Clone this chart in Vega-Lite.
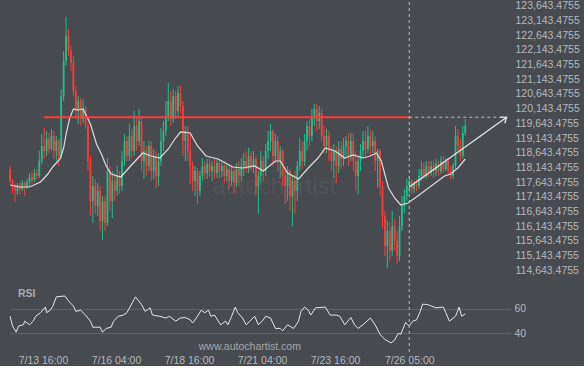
{
"$schema":"https://vega.github.io/schema/vega-lite/v6.json",
"background":"#474a4f",
"padding":{"left":7,"top":0,"right":4,"bottom":0},
"spacing":0,
"config":{"view":{"stroke":null},"axis":{"labelFont":"Liberation Sans","labelFontSize":10.5,"labelColor":"#b5b8bc","domain":false,"ticks":false,"labelOverlap":false}},
"datasets":{
"candles":[
{"t":"2025-07-12T13:00","o":118091,"h":118193,"l":117615,"c":117683},
{"t":"2025-07-12T15:00","o":117683,"h":117751,"l":117275,"c":117479},
{"t":"2025-07-12T17:00","o":117479,"h":117581,"l":116969,"c":117343},
{"t":"2025-07-12T19:00","o":117343,"h":117615,"l":117207,"c":117547},
{"t":"2025-07-12T21:00","o":117547,"h":117649,"l":117241,"c":117411},
{"t":"2025-07-12T23:00","o":117411,"h":117717,"l":117343,"c":117615},
{"t":"2025-07-13T01:00","o":117615,"h":117683,"l":117173,"c":117479},
{"t":"2025-07-13T03:00","o":117479,"h":117751,"l":117411,"c":117649},
{"t":"2025-07-13T05:00","o":117649,"h":117955,"l":117513,"c":117819},
{"t":"2025-07-13T07:00","o":117819,"h":118023,"l":117581,"c":117717},
{"t":"2025-07-13T09:00","o":117717,"h":118091,"l":117649,"c":117955},
{"t":"2025-07-13T11:00","o":117955,"h":118091,"l":117751,"c":117853},
{"t":"2025-07-13T13:00","o":117853,"h":118703,"l":117785,"c":118363},
{"t":"2025-07-13T15:00","o":118363,"h":119281,"l":118261,"c":118873},
{"t":"2025-07-13T17:00","o":118873,"h":119485,"l":118431,"c":118703},
{"t":"2025-07-13T19:00","o":118703,"h":119383,"l":118533,"c":119111},
{"t":"2025-07-13T21:00","o":119111,"h":119315,"l":118635,"c":118771},
{"t":"2025-07-13T23:00","o":118771,"h":119451,"l":118703,"c":119213},
{"t":"2025-07-14T01:00","o":119213,"h":119383,"l":118431,"c":118703},
{"t":"2025-07-14T03:00","o":118703,"h":119213,"l":118363,"c":119043},
{"t":"2025-07-14T05:00","o":119043,"h":119111,"l":118193,"c":118533},
{"t":"2025-07-14T07:00","o":118533,"h":120811,"l":118431,"c":120573},
{"t":"2025-07-14T09:00","o":120573,"h":122103,"l":120403,"c":121763},
{"t":"2025-07-14T11:00","o":121763,"h":123259,"l":121593,"c":122613},
{"t":"2025-07-14T13:00","o":122613,"h":122851,"l":121933,"c":122103},
{"t":"2025-07-14T15:00","o":122103,"h":122273,"l":121423,"c":121695},
{"t":"2025-07-14T17:00","o":121695,"h":121933,"l":120573,"c":120743},
{"t":"2025-07-14T19:00","o":120743,"h":120913,"l":119791,"c":120063},
{"t":"2025-07-14T21:00","o":120063,"h":120573,"l":119621,"c":120403},
{"t":"2025-07-14T23:00","o":120403,"h":120505,"l":119553,"c":119791},
{"t":"2025-07-15T01:00","o":119791,"h":120471,"l":119655,"c":120131},
{"t":"2025-07-15T03:00","o":120131,"h":120233,"l":119451,"c":119553},
{"t":"2025-07-15T05:00","o":119553,"h":119655,"l":118023,"c":118363},
{"t":"2025-07-15T07:00","o":118363,"h":118533,"l":116493,"c":117003},
{"t":"2025-07-15T09:00","o":117003,"h":117853,"l":116255,"c":117513},
{"t":"2025-07-15T11:00","o":117513,"h":117751,"l":116561,"c":116833},
{"t":"2025-07-15T13:00","o":116833,"h":117615,"l":116493,"c":117343},
{"t":"2025-07-15T15:00","o":117343,"h":117513,"l":115983,"c":116323},
{"t":"2025-07-15T17:00","o":116323,"h":117173,"l":115677,"c":117003},
{"t":"2025-07-15T19:00","o":117003,"h":117173,"l":115983,"c":116255},
{"t":"2025-07-15T21:00","o":116255,"h":118465,"l":116153,"c":118023},
{"t":"2025-07-15T23:00","o":118023,"h":118193,"l":116663,"c":117003},
{"t":"2025-07-16T01:00","o":117003,"h":118023,"l":116425,"c":117683},
{"t":"2025-07-16T03:00","o":117683,"h":117955,"l":117003,"c":117343},
{"t":"2025-07-16T05:00","o":117343,"h":118193,"l":117173,"c":117853},
{"t":"2025-07-16T07:00","o":117853,"h":118023,"l":117241,"c":117513},
{"t":"2025-07-16T09:00","o":117513,"h":118703,"l":117343,"c":118363},
{"t":"2025-07-16T11:00","o":118363,"h":119281,"l":118193,"c":119043},
{"t":"2025-07-16T13:00","o":119043,"h":119213,"l":118363,"c":118533},
{"t":"2025-07-16T15:00","o":118533,"h":119621,"l":118363,"c":119213},
{"t":"2025-07-16T17:00","o":119213,"h":119451,"l":118431,"c":118703},
{"t":"2025-07-16T19:00","o":118703,"h":120063,"l":118533,"c":119553},
{"t":"2025-07-16T21:00","o":119553,"h":119893,"l":118703,"c":119043},
{"t":"2025-07-16T23:00","o":119043,"h":120131,"l":118873,"c":119723},
{"t":"2025-07-17T01:00","o":119723,"h":119893,"l":118023,"c":118363},
{"t":"2025-07-17T03:00","o":118363,"h":119043,"l":117751,"c":118703},
{"t":"2025-07-17T05:00","o":118703,"h":118873,"l":117853,"c":118193},
{"t":"2025-07-17T07:00","o":118193,"h":119043,"l":118023,"c":118873},
{"t":"2025-07-17T09:00","o":118873,"h":119043,"l":117683,"c":118023},
{"t":"2025-07-17T11:00","o":118023,"h":118771,"l":117751,"c":118533},
{"t":"2025-07-17T13:00","o":118533,"h":118703,"l":117445,"c":117853},
{"t":"2025-07-17T15:00","o":117853,"h":118635,"l":117513,"c":118363},
{"t":"2025-07-17T17:00","o":118363,"h":119485,"l":118193,"c":119043},
{"t":"2025-07-17T19:00","o":119043,"h":119723,"l":118703,"c":119383},
{"t":"2025-07-17T21:00","o":119383,"h":120403,"l":119213,"c":119893},
{"t":"2025-07-17T23:00","o":119893,"h":121015,"l":119723,"c":120403},
{"t":"2025-07-18T01:00","o":120403,"h":120743,"l":119553,"c":119791},
{"t":"2025-07-18T03:00","o":119791,"h":120811,"l":119655,"c":120573},
{"t":"2025-07-18T05:00","o":120573,"h":120743,"l":119791,"c":120063},
{"t":"2025-07-18T07:00","o":120063,"h":120913,"l":119893,"c":120675},
{"t":"2025-07-18T09:00","o":120675,"h":120913,"l":119995,"c":120233},
{"t":"2025-07-18T11:00","o":120233,"h":120403,"l":118533,"c":119043},
{"t":"2025-07-18T13:00","o":119043,"h":119553,"l":118363,"c":119383},
{"t":"2025-07-18T15:00","o":119383,"h":119553,"l":118363,"c":118703},
{"t":"2025-07-18T17:00","o":118703,"h":119281,"l":117581,"c":118193},
{"t":"2025-07-18T19:00","o":118193,"h":118363,"l":117343,"c":117683},
{"t":"2025-07-18T21:00","o":117683,"h":118193,"l":117173,"c":118023},
{"t":"2025-07-18T23:00","o":118023,"h":118125,"l":116901,"c":117343},
{"t":"2025-07-19T01:00","o":117343,"h":118023,"l":117173,"c":117853},
{"t":"2025-07-19T03:00","o":117853,"h":118465,"l":117683,"c":118193},
{"t":"2025-07-19T05:00","o":118193,"h":118363,"l":117751,"c":117955},
{"t":"2025-07-19T07:00","o":117955,"h":118431,"l":117751,"c":118261},
{"t":"2025-07-19T09:00","o":118261,"h":118431,"l":117819,"c":118023},
{"t":"2025-07-19T11:00","o":118023,"h":118363,"l":117683,"c":118193},
{"t":"2025-07-19T13:00","o":118193,"h":118431,"l":117751,"c":117955},
{"t":"2025-07-19T15:00","o":117955,"h":118465,"l":117785,"c":118295},
{"t":"2025-07-19T17:00","o":118295,"h":118431,"l":117751,"c":118023},
{"t":"2025-07-19T19:00","o":118023,"h":118363,"l":117819,"c":118193},
{"t":"2025-07-19T21:00","o":118193,"h":118363,"l":117615,"c":117853},
{"t":"2025-07-19T23:00","o":117853,"h":118295,"l":117683,"c":118091},
{"t":"2025-07-20T01:00","o":118091,"h":118261,"l":117411,"c":117683},
{"t":"2025-07-20T03:00","o":117683,"h":118193,"l":117513,"c":118023},
{"t":"2025-07-20T05:00","o":118023,"h":118193,"l":117275,"c":117615},
{"t":"2025-07-20T07:00","o":117615,"h":118295,"l":117479,"c":118091},
{"t":"2025-07-20T09:00","o":118091,"h":118363,"l":117513,"c":117853},
{"t":"2025-07-20T11:00","o":117853,"h":118465,"l":117683,"c":118193},
{"t":"2025-07-20T13:00","o":118193,"h":118635,"l":117853,"c":118363},
{"t":"2025-07-20T15:00","o":118363,"h":118703,"l":117955,"c":118091},
{"t":"2025-07-20T17:00","o":118091,"h":118805,"l":117955,"c":118533},
{"t":"2025-07-20T19:00","o":118533,"h":118703,"l":118023,"c":118193},
{"t":"2025-07-20T21:00","o":118193,"h":118703,"l":117955,"c":118431},
{"t":"2025-07-20T23:00","o":118431,"h":118533,"l":117173,"c":117513},
{"t":"2025-07-21T01:00","o":117513,"h":118023,"l":116561,"c":117853},
{"t":"2025-07-21T03:00","o":117853,"h":118703,"l":117615,"c":118363},
{"t":"2025-07-21T05:00","o":118363,"h":118533,"l":117683,"c":118023},
{"t":"2025-07-21T07:00","o":118023,"h":118941,"l":117853,"c":118703},
{"t":"2025-07-21T09:00","o":118703,"h":119383,"l":118431,"c":119043},
{"t":"2025-07-21T11:00","o":119043,"h":119621,"l":118703,"c":119383},
{"t":"2025-07-21T13:00","o":119383,"h":119451,"l":118193,"c":118533},
{"t":"2025-07-21T15:00","o":118533,"h":119281,"l":118295,"c":119043},
{"t":"2025-07-21T17:00","o":119043,"h":119213,"l":118023,"c":118363},
{"t":"2025-07-21T19:00","o":118363,"h":118873,"l":117785,"c":118703},
{"t":"2025-07-21T21:00","o":118703,"h":118771,"l":117513,"c":117853},
{"t":"2025-07-21T23:00","o":117853,"h":118193,"l":116901,"c":117513},
{"t":"2025-07-22T01:00","o":117513,"h":118193,"l":117003,"c":118023},
{"t":"2025-07-22T03:00","o":118023,"h":118091,"l":116663,"c":117173},
{"t":"2025-07-22T05:00","o":117173,"h":117853,"l":116153,"c":117683},
{"t":"2025-07-22T07:00","o":117683,"h":118023,"l":116561,"c":117343},
{"t":"2025-07-22T09:00","o":117343,"h":118363,"l":117003,"c":118193},
{"t":"2025-07-22T11:00","o":118193,"h":119145,"l":118023,"c":118703},
{"t":"2025-07-22T13:00","o":118703,"h":119043,"l":118091,"c":118363},
{"t":"2025-07-22T15:00","o":118363,"h":119281,"l":118193,"c":119043},
{"t":"2025-07-22T17:00","o":119043,"h":119723,"l":118703,"c":119553},
{"t":"2025-07-22T19:00","o":119553,"h":119791,"l":118873,"c":119213},
{"t":"2025-07-22T21:00","o":119213,"h":120131,"l":119043,"c":119893},
{"t":"2025-07-22T23:00","o":119893,"h":120301,"l":119553,"c":120131},
{"t":"2025-07-23T01:00","o":120131,"h":120301,"l":119383,"c":119723},
{"t":"2025-07-23T03:00","o":119723,"h":120233,"l":119451,"c":119995},
{"t":"2025-07-23T05:00","o":119995,"h":120131,"l":119043,"c":119213},
{"t":"2025-07-23T07:00","o":119213,"h":119553,"l":118601,"c":118873},
{"t":"2025-07-23T09:00","o":118873,"h":119451,"l":118635,"c":119213},
{"t":"2025-07-23T11:00","o":119213,"h":119383,"l":118363,"c":118703},
{"t":"2025-07-23T13:00","o":118703,"h":118873,"l":118023,"c":118363},
{"t":"2025-07-23T15:00","o":118363,"h":118941,"l":117785,"c":118703},
{"t":"2025-07-23T17:00","o":118703,"h":118873,"l":117615,"c":118193},
{"t":"2025-07-23T19:00","o":118193,"h":119043,"l":117955,"c":118771},
{"t":"2025-07-23T21:00","o":118771,"h":119043,"l":118091,"c":118431},
{"t":"2025-07-23T23:00","o":118431,"h":119145,"l":118193,"c":118873},
{"t":"2025-07-24T01:00","o":118873,"h":119213,"l":118533,"c":119043},
{"t":"2025-07-24T03:00","o":119043,"h":119315,"l":118193,"c":118533},
{"t":"2025-07-24T05:00","o":118533,"h":119315,"l":118363,"c":119043},
{"t":"2025-07-24T07:00","o":119043,"h":119315,"l":118023,"c":118363},
{"t":"2025-07-24T09:00","o":118363,"h":118703,"l":117343,"c":117853},
{"t":"2025-07-24T11:00","o":117853,"h":118533,"l":117241,"c":118363},
{"t":"2025-07-24T13:00","o":118363,"h":118941,"l":118023,"c":118703},
{"t":"2025-07-24T15:00","o":118703,"h":119383,"l":118465,"c":119043},
{"t":"2025-07-24T17:00","o":119043,"h":119383,"l":118533,"c":118771},
{"t":"2025-07-24T19:00","o":118771,"h":119553,"l":118635,"c":119213},
{"t":"2025-07-24T21:00","o":119213,"h":119451,"l":118533,"c":118873},
{"t":"2025-07-24T23:00","o":118873,"h":119383,"l":118635,"c":119043},
{"t":"2025-07-25T01:00","o":119043,"h":119213,"l":118023,"c":118363},
{"t":"2025-07-25T03:00","o":118363,"h":118771,"l":117445,"c":118703},
{"t":"2025-07-25T05:00","o":118703,"h":118771,"l":117173,"c":117513},
{"t":"2025-07-25T07:00","o":117513,"h":117683,"l":116085,"c":116493},
{"t":"2025-07-25T09:00","o":116493,"h":116663,"l":115133,"c":115473},
{"t":"2025-07-25T11:00","o":115473,"h":116323,"l":114725,"c":115983},
{"t":"2025-07-25T13:00","o":115983,"h":116255,"l":114963,"c":115303},
{"t":"2025-07-25T15:00","o":115303,"h":116663,"l":115133,"c":116153},
{"t":"2025-07-25T17:00","o":116153,"h":116391,"l":115303,"c":115643},
{"t":"2025-07-25T19:00","o":115643,"h":115983,"l":114861,"c":115133},
{"t":"2025-07-25T21:00","o":115133,"h":116493,"l":114963,"c":116153},
{"t":"2025-07-25T23:00","o":116153,"h":117173,"l":115983,"c":116833},
{"t":"2025-07-26T01:00","o":116833,"h":117411,"l":116595,"c":117173},
{"t":"2025-07-26T03:00","o":117173,"h":117751,"l":117003,"c":117513},
{"t":"2025-07-26T05:00","o":117513,"h":117853,"l":117275,"c":117683},
{"t":"2025-07-26T07:00","o":117683,"h":117751,"l":117241,"c":117411},
{"t":"2025-07-26T09:00","o":117411,"h":117683,"l":117275,"c":117581},
{"t":"2025-07-26T11:00","o":117581,"h":117751,"l":117343,"c":117513},
{"t":"2025-07-26T13:00","o":117513,"h":118091,"l":117411,"c":117853},
{"t":"2025-07-26T15:00","o":117853,"h":118363,"l":117683,"c":118091},
{"t":"2025-07-26T17:00","o":118091,"h":118295,"l":117751,"c":117853},
{"t":"2025-07-26T19:00","o":117853,"h":118363,"l":117751,"c":118193},
{"t":"2025-07-26T21:00","o":118193,"h":118363,"l":117819,"c":117955},
{"t":"2025-07-26T23:00","o":117955,"h":118363,"l":117853,"c":118193},
{"t":"2025-07-27T01:00","o":118193,"h":118363,"l":117785,"c":118023},
{"t":"2025-07-27T03:00","o":118023,"h":118431,"l":117853,"c":118261},
{"t":"2025-07-27T05:00","o":118261,"h":118363,"l":117853,"c":118023},
{"t":"2025-07-27T07:00","o":118023,"h":118533,"l":117921,"c":118363},
{"t":"2025-07-27T09:00","o":118363,"h":118533,"l":117955,"c":118091},
{"t":"2025-07-27T11:00","o":118091,"h":118465,"l":118023,"c":118363},
{"t":"2025-07-27T13:00","o":118363,"h":118465,"l":117853,"c":118023},
{"t":"2025-07-27T15:00","o":118023,"h":118193,"l":117751,"c":117853},
{"t":"2025-07-27T17:00","o":117853,"h":118295,"l":117751,"c":118193},
{"t":"2025-07-27T19:00","o":118193,"h":119553,"l":118091,"c":119213},
{"t":"2025-07-27T21:00","o":119213,"h":119451,"l":118703,"c":118873},
{"t":"2025-07-27T23:00","o":118873,"h":119111,"l":118363,"c":118533},
{"t":"2025-07-28T01:00","o":118533,"h":119553,"l":118431,"c":119315},
{"t":"2025-07-28T03:00","o":119315,"h":119791,"l":119213,"c":119553}
],
"ma":[
{"t":"2025-07-12T13:00","p":117547},{"t":"2025-07-12T21:00","p":117479},{"t":"2025-07-13T05:00","p":117479},{"t":"2025-07-13T14:00","p":117649},
{"t":"2025-07-13T20:00","p":117921},{"t":"2025-07-14T00:00","p":118159},{"t":"2025-07-14T06:00","p":118431},{"t":"2025-07-14T09:00","p":118805},
{"t":"2025-07-14T11:00","p":119281},{"t":"2025-07-14T14:00","p":119825},{"t":"2025-07-14T17:00","p":120131},{"t":"2025-07-14T21:00","p":120097},
{"t":"2025-07-15T01:00","p":120131},{"t":"2025-07-15T03:00","p":119961},{"t":"2025-07-15T07:00","p":119621},{"t":"2025-07-15T12:00","p":118941},
{"t":"2025-07-15T16:00","p":118601},{"t":"2025-07-15T20:00","p":118193},{"t":"2025-07-16T00:00","p":117921},{"t":"2025-07-16T08:00","p":117819},
{"t":"2025-07-16T16:00","p":118193},{"t":"2025-07-17T02:00","p":118635},{"t":"2025-07-17T09:00","p":118533},{"t":"2025-07-17T16:00","p":118465},
{"t":"2025-07-17T23:00","p":118771},{"t":"2025-07-18T05:00","p":119145},{"t":"2025-07-18T09:00","p":119349},{"t":"2025-07-18T17:00","p":119315},
{"t":"2025-07-18T23:00","p":118873},{"t":"2025-07-19T06:00","p":118533},{"t":"2025-07-19T16:00","p":118431},{"t":"2025-07-20T04:00","p":118159},
{"t":"2025-07-20T12:00","p":118125},{"t":"2025-07-20T22:00","p":118193},{"t":"2025-07-21T05:00","p":118023},{"t":"2025-07-21T15:00","p":118363},
{"t":"2025-07-21T19:00","p":118363},{"t":"2025-07-22T01:00","p":117955},{"t":"2025-07-22T10:00","p":117751},{"t":"2025-07-22T18:00","p":118125},
{"t":"2025-07-23T02:00","p":118465},{"t":"2025-07-23T08:00","p":118805},{"t":"2025-07-23T16:00","p":118703},{"t":"2025-07-24T00:00","p":118465},
{"t":"2025-07-24T07:00","p":118567},{"t":"2025-07-24T15:00","p":118465},{"t":"2025-07-24T21:00","p":118533},{"t":"2025-07-25T02:00","p":118635},
{"t":"2025-07-25T06:00","p":118363},{"t":"2025-07-25T12:00","p":117445},{"t":"2025-07-25T17:00","p":117105},{"t":"2025-07-25T22:00","p":116867},
{"t":"2025-07-26T04:00","p":116935},{"t":"2025-07-26T12:00","p":117173},{"t":"2025-07-26T23:00","p":117513},{"t":"2025-07-27T10:00","p":117853},
{"t":"2025-07-27T15:00","p":117921},{"t":"2025-07-27T21:00","p":118125},{"t":"2025-07-28T03:00","p":118431}
],
"rsi":[
{"t":"2025-07-12T13:00","v":54},{"t":"2025-07-12T15:00","v":46},{"t":"2025-07-12T18:00","v":41},{"t":"2025-07-12T20:00","v":46},
{"t":"2025-07-13T00:00","v":47},{"t":"2025-07-13T01:00","v":50},{"t":"2025-07-13T05:00","v":47},{"t":"2025-07-13T08:00","v":50},
{"t":"2025-07-13T10:00","v":54},{"t":"2025-07-13T14:00","v":57},{"t":"2025-07-13T18:00","v":61.6},{"t":"2025-07-13T19:00","v":57},
{"t":"2025-07-13T22:00","v":59},{"t":"2025-07-14T00:00","v":62},{"t":"2025-07-14T03:00","v":70},{"t":"2025-07-14T10:00","v":70.7},
{"t":"2025-07-14T13:00","v":66.6},{"t":"2025-07-14T17:00","v":62.5},{"t":"2025-07-14T19:00","v":58},{"t":"2025-07-14T23:00","v":59},
{"t":"2025-07-15T03:00","v":55},{"t":"2025-07-15T07:00","v":50},{"t":"2025-07-15T09:00","v":45},{"t":"2025-07-15T15:00","v":45},
{"t":"2025-07-15T17:00","v":41},{"t":"2025-07-15T20:00","v":44},{"t":"2025-07-16T00:00","v":45},{"t":"2025-07-16T02:00","v":50},
{"t":"2025-07-16T06:00","v":54},{"t":"2025-07-16T10:00","v":55},{"t":"2025-07-16T13:00","v":57},{"t":"2025-07-16T16:00","v":62.5},
{"t":"2025-07-16T20:00","v":70},{"t":"2025-07-17T01:00","v":63.6},{"t":"2025-07-17T04:00","v":58},{"t":"2025-07-17T08:00","v":61},
{"t":"2025-07-17T10:00","v":55},{"t":"2025-07-17T16:00","v":54},{"t":"2025-07-17T21:00","v":52.6},{"t":"2025-07-18T00:00","v":54},
{"t":"2025-07-18T05:00","v":50},{"t":"2025-07-18T09:00","v":52.6},{"t":"2025-07-18T13:00","v":53},{"t":"2025-07-18T17:00","v":51},
{"t":"2025-07-18T19:00","v":48.5},{"t":"2025-07-18T23:00","v":54},{"t":"2025-07-19T02:00","v":59},{"t":"2025-07-19T05:00","v":57},
{"t":"2025-07-19T08:00","v":59},{"t":"2025-07-19T10:00","v":54},{"t":"2025-07-19T13:00","v":55},{"t":"2025-07-19T18:00","v":47},
{"t":"2025-07-19T22:00","v":50},{"t":"2025-07-20T00:00","v":47},{"t":"2025-07-20T03:00","v":54},{"t":"2025-07-20T06:00","v":61.6},
{"t":"2025-07-20T08:00","v":57},{"t":"2025-07-20T12:00","v":52.6},{"t":"2025-07-20T15:00","v":47},{"t":"2025-07-20T19:00","v":51},
{"t":"2025-07-20T22:00","v":54},{"t":"2025-07-21T01:00","v":47},{"t":"2025-07-21T05:00","v":51},{"t":"2025-07-21T07:00","v":54},
{"t":"2025-07-21T11:00","v":52.6},{"t":"2025-07-21T15:00","v":44},{"t":"2025-07-21T19:00","v":44},{"t":"2025-07-21T21:00","v":42},
{"t":"2025-07-22T01:00","v":47},{"t":"2025-07-22T06:00","v":44},{"t":"2025-07-22T10:00","v":50},{"t":"2025-07-22T12:00","v":58},
{"t":"2025-07-22T15:00","v":61.6},{"t":"2025-07-22T18:00","v":59},{"t":"2025-07-22T20:00","v":55},{"t":"2025-07-23T00:00","v":61},
{"t":"2025-07-23T08:00","v":61.6},{"t":"2025-07-23T12:00","v":55},{"t":"2025-07-23T17:00","v":55},{"t":"2025-07-23T20:00","v":54},
{"t":"2025-07-24T00:00","v":47},{"t":"2025-07-24T05:00","v":53},{"t":"2025-07-24T08:00","v":47},{"t":"2025-07-24T11:00","v":44},
{"t":"2025-07-24T15:00","v":47},{"t":"2025-07-24T21:00","v":52.6},{"t":"2025-07-25T01:00","v":47},{"t":"2025-07-25T05:00","v":39},
{"t":"2025-07-25T09:00","v":35},{"t":"2025-07-25T14:00","v":32},{"t":"2025-07-25T17:00","v":34.5},{"t":"2025-07-25T20:00","v":40},
{"t":"2025-07-25T22:00","v":39},{"t":"2025-07-26T02:00","v":49},{"t":"2025-07-26T05:00","v":46},{"t":"2025-07-26T08:00","v":50},
{"t":"2025-07-26T11:00","v":51},{"t":"2025-07-26T14:00","v":58},{"t":"2025-07-26T16:00","v":64},{"t":"2025-07-26T20:00","v":63.6},
{"t":"2025-07-26T23:00","v":62.5},{"t":"2025-07-27T03:00","v":61},{"t":"2025-07-27T09:00","v":61.6},{"t":"2025-07-27T11:00","v":57},
{"t":"2025-07-27T14:00","v":50},{"t":"2025-07-27T19:00","v":54},{"t":"2025-07-27T22:00","v":61.6},{"t":"2025-07-28T00:00","v":54},
{"t":"2025-07-28T03:00","v":56}
]
},
"vconcat":[
{
"width":501,"height":280,
"encoding":{
 "x":{"field":"t","type":"temporal","scale":{"domain":[{"year":2025,"month":7,"date":12,"hours":12,"minutes":55},{"year":2025,"month":7,"date":29,"hours":16,"minutes":36}]},"axis":null},
 "y":{"field":"p","type":"quantitative","scale":{"domain":[114283,123803],"nice":false,"zero":false},
  "axis":{"orient":"right","title":null,"values":[114643.4755,115143.4755,115643.4755,116143.4755,116643.4755,117143.4755,117643.4755,118143.4755,118643.4755,119143.4755,119643.4755,120143.4755,120643.4755,121143.4755,121643.4755,122143.4755,122643.4755,123143.4755,123643.4755],"format":",.4f","labelPadding":4,"grid":false,"labelOverlap":false}}
},
"layer":[
{"data":{"values":[{"t":"2025-07-21T14:00","p":117479,"s":"autochartist"}]},
 "mark":{"type":"text","fontSize":24,"font":"Liberation Sans","color":"#505358","align":"center","baseline":"middle"},
 "encoding":{"text":{"field":"s"}}},
{"data":{"name":"candles"},
 "mark":{"type":"rule","strokeWidth":1},
 "encoding":{
  "y":{"field":"l","type":"quantitative","scale":{"domain":[114283,123803],"nice":false,"zero":false},
   "axis":{"orient":"right","title":null,"values":[114643.4755,115143.4755,115643.4755,116143.4755,116643.4755,117143.4755,117643.4755,118143.4755,118643.4755,119143.4755,119643.4755,120143.4755,120643.4755,121143.4755,121643.4755,122143.4755,122643.4755,123143.4755,123643.4755],"format":",.4f","labelPadding":4,"grid":false,"labelOverlap":false}},
  "y2":{"field":"h"},
  "color":{"condition":{"test":"datum.c >= datum.o","value":"#1dc08b"},"value":"#ff3b3b"}}},
{"data":{"name":"candles"},
 "mark":{"type":"rule","strokeWidth":1.8},
 "encoding":{
  "y":{"field":"o","type":"quantitative","scale":{"domain":[114283,123803],"nice":false,"zero":false},
   "axis":{"orient":"right","title":null,"values":[114643.4755,115143.4755,115643.4755,116143.4755,116643.4755,117143.4755,117643.4755,118143.4755,118643.4755,119143.4755,119643.4755,120143.4755,120643.4755,121143.4755,121643.4755,122143.4755,122643.4755,123143.4755,123643.4755],"format":",.4f","labelPadding":4,"grid":false,"labelOverlap":false}},
  "y2":{"field":"c"},
  "color":{"condition":{"test":"datum.c >= datum.o","value":"#1dc08b"},"value":"#ff3b3b"}}},
{"data":{"name":"ma"},
 "mark":{"type":"line","color":"#dcdcdc","strokeWidth":1.2}},
{"data":{"values":[{"t":"2025-07-13T17:00","t2":"2025-07-26T05:00","p":119850}]},
 "mark":{"type":"rule","color":"#ff3b3b","strokeWidth":2},
 "encoding":{"x2":{"field":"t2"}}},
{"data":{"values":[{"t":"2025-07-26T05:00","t2":"2025-07-29T13:00","p":119850}]},
 "mark":{"type":"rule","color":"#b9bcc0","strokeWidth":1,"strokeDash":[3,3]},
 "encoding":{"x2":{"field":"t2"}}},
{"data":{"values":[{"t":"2025-07-26T05:00","p":114283,"p2":123803}]},
 "mark":{"type":"rule","color":"#b9bcc0","strokeWidth":1,"strokeDash":[3,3]},
 "encoding":{"y2":{"field":"p2"}}},
{"data":{"values":[{"t":"2025-07-26T05:00","p":117479},{"t":"2025-07-29T13:00","p":119850}]},
 "mark":{"type":"line","color":"#e8e8e8","strokeWidth":1.3}},
{"data":{"values":[{"t":"2025-07-29T13:00","p":119850}]},
 "mark":{"type":"point","shape":"M-1,-0.75L0,0L-1,0.75","filled":false,"color":"#e8e8e8","strokeWidth":1.3,"size":100,"angle":-36,"opacity":1}}
]
},
{
"width":501,"height":69,
"encoding":{
 "x":{"field":"t","type":"temporal","scale":{"domain":[{"year":2025,"month":7,"date":12,"hours":12,"minutes":55},{"year":2025,"month":7,"date":29,"hours":16,"minutes":36}]},
  "axis":{"title":null,"values":[{"year":2025,"month":7,"date":13,"hours":16},{"year":2025,"month":7,"date":16,"hours":4},{"year":2025,"month":7,"date":18,"hours":16},{"year":2025,"month":7,"date":21,"hours":4},{"year":2025,"month":7,"date":23,"hours":16},{"year":2025,"month":7,"date":26,"hours":5}],"format":"%-m/%-d %H:%M","labelPadding":3,"grid":false,"labelOverlap":false,"labelFlush":false}},
 "y":{"field":"v","type":"quantitative","scale":{"domain":[24.6,81.4],"nice":false,"zero":false},
  "axis":{"orient":"right","title":null,"values":[40,60],"grid":true,"gridColor":"#5d6065","labelPadding":3,"labelOverlap":false}}
},
"layer":[
{"data":{"name":"rsi"},
 "mark":{"type":"line","color":"#e8e8e8","strokeWidth":1}},
{"data":{"values":[{"t":"2025-07-26T05:00","v":24.6,"v2":81.4}]},
 "mark":{"type":"rule","color":"#b9bcc0","strokeWidth":1,"strokeDash":[3,3]},
 "encoding":{"y2":{"field":"v2"}}},
{"data":{"values":[{"t":"2025-07-12T19:30","v":72.3,"s":"RSI"}]},
 "mark":{"type":"text","align":"left","baseline":"middle","fontWeight":"bold","fontSize":10.5,"font":"Liberation Sans","color":"#a9acb0"},
 "encoding":{"text":{"field":"s"}}},
{"data":{"values":[{"t":"2025-07-20T18:00","v":28.7,"s":"www.autochartist.com"}]},
 "mark":{"type":"text","align":"center","baseline":"middle","fontSize":10.5,"font":"Liberation Sans","color":"#a5a8ac"},
 "encoding":{"text":{"field":"s"}}}
]
}
]
}
